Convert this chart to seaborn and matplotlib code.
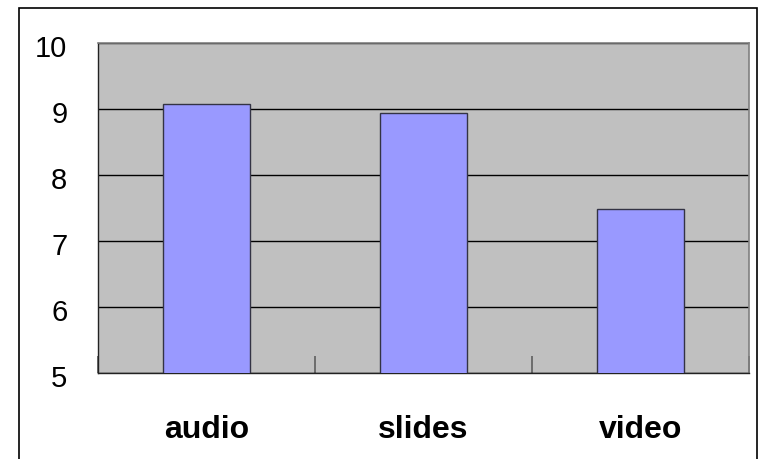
import matplotlib
matplotlib.use("Agg")
import matplotlib.pyplot as plt
import matplotlib.transforms as mtransforms
import seaborn as sns
import pandas as pd
from matplotlib.patches import Rectangle

# Data
categories = ["audio", "slides", "video"]
scores = [9.08, 8.94, 7.48]
y_ticks = [5, 6, 7, 8, 9, 10]

df = pd.DataFrame({"category": categories, "score": scores})

sns.set_style("white")
plt.rcParams['font.family'] = ['Liberation Sans', 'DejaVu Sans']

fig = plt.figure(figsize=(7.59, 4.59), dpi=100)
fig.patch.set_facecolor("white")

# outer chart frame (Excel style)
fig.patches.append(Rectangle((19 / 759, -0.05), (757 - 19) / 759, 1.05 - 8 / 459,
                             transform=fig.transFigure, fill=False,
                             edgecolor="black", linewidth=1.2, zorder=0))

ax = fig.add_axes([98 / 759, 1 - 373 / 459, (749 - 98) / 759, (373 - 43) / 459])
ax.set_facecolor("#C0C0C0")

sns.barplot(data=df, x="category", y="score", ax=ax, width=0.4,
            color="#9999FF", edgecolor="#333344", linewidth=1.0,
            saturation=1, zorder=3)

ax.set_ylim(5, 10)
ax.set_xlim(-0.5, 2.5)
ax.set_yticks(y_ticks)
ax.yaxis.grid(True, color="black", linewidth=1.0, zorder=1)
ax.set_axisbelow(True)

# category boundary ticks
ax.set_xticks([-0.5, 0.5, 1.5, 2.5], minor=True)
ax.tick_params(axis="x", which="minor", bottom=True, direction="in", length=12,
               color="#666666", width=1.3)
ax.tick_params(axis="x", which="major", bottom=False, length=0, pad=30,
               labelsize=23, labelcolor="black")
ax.tick_params(axis="y", which="major", left=False, length=0, pad=22,
               labelsize=21, labelcolor="black")
for lbl in ax.get_xticklabels():
    lbl.set_fontweight("bold")
shift = mtransforms.ScaledTranslation(0, -3 / 100, fig.dpi_scale_trans)
for lbl in ax.get_yticklabels():
    lbl.set_transform(lbl.get_transform() + shift)

ax.set_xlabel("")
ax.set_ylabel("")

for side in ["left", "bottom"]:
    ax.spines[side].set_color("#222222")
    ax.spines[side].set_linewidth(1.0)
for side in ["top", "right"]:
    ax.spines[side].set_color("#808080")
    ax.spines[side].set_linewidth(1.2)

plt.savefig("out.png", dpi=100)
